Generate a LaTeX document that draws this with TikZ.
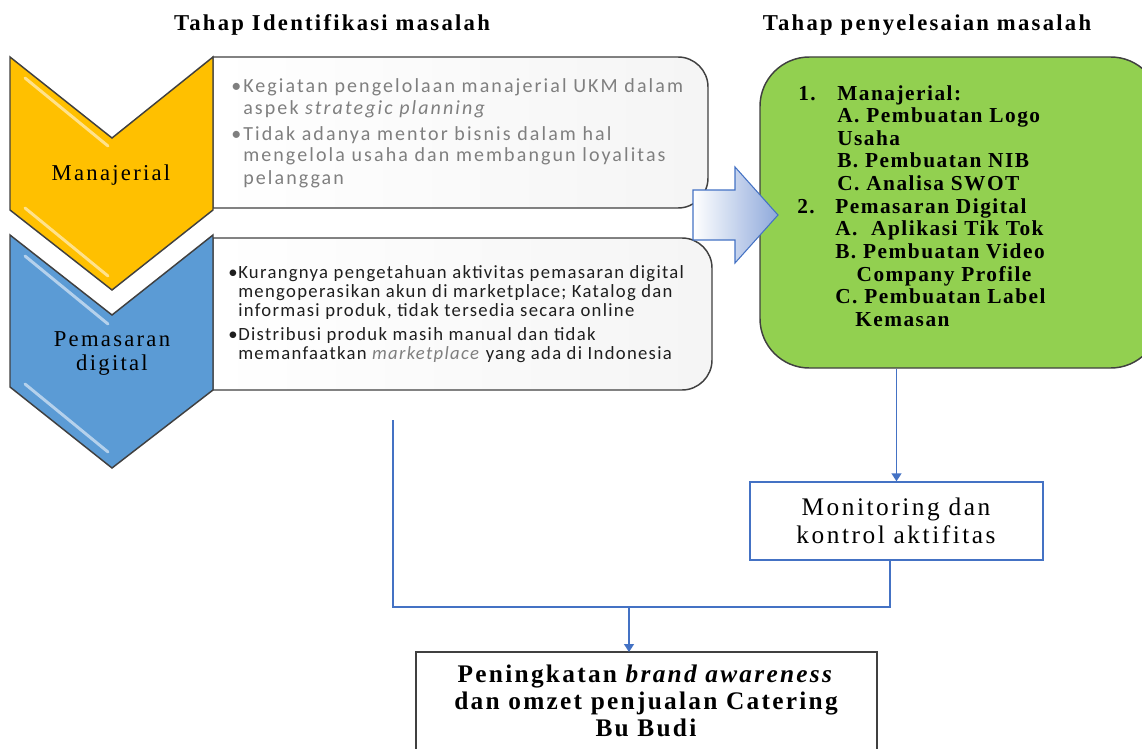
\documentclass[tikz,border=0pt]{standalone}
\usepackage{fontspec}
\setmainfont{Liberation Serif}
\newfontfamily\serifT[LetterSpace=10]{Liberation Serif}
\newfontfamily\serifL[LetterSpace=10]{Liberation Serif}
\newfontfamily\serifG[LetterSpace=7]{Liberation Serif}
\newfontfamily\serifM[LetterSpace=10]{Liberation Serif}
\newfontfamily\serifR[LetterSpace=9]{Liberation Serif}
\newfontfamily\calsansA[LetterSpace=10.5]{Carlito}
\newfontfamily\calsansB[LetterSpace=7]{Carlito}
\usetikzlibrary{arrows.meta}
\definecolor{chevY}{HTML}{FFC000}
\definecolor{chevB}{HTML}{5B9BD5}
\definecolor{edgegray}{HTML}{404040}
\definecolor{lineB}{HTML}{4472C4}
\definecolor{grn}{HTML}{92D050}
\definecolor{txtgray}{HTML}{7F7F7F}
\definecolor{txtdark}{HTML}{1E1E1E}
\definecolor{arrowB}{HTML}{8EA9DB}
\tikzset{
  chev/.style={draw=edgegray, line width=1.1pt, line join=miter},
  hl/.style={white, opacity=0.55, line width=2.2pt, line cap=round},
  boxst/.style={draw=edgegray, line width=1.1pt, left color=white, right color=black!4},
  conn/.style={draw=lineB, line width=1.1pt},
  tip/.style={-{Triangle[width=7.5pt,length=6pt]}},
  txt/.style={inner sep=0pt},
  topfont/.style={font=\fontsize{15}{16.5}\selectfont\calsansA, text=txtgray},
  botfont/.style={font=\fontsize{14}{14.6}\selectfont\calsansB, text=txtdark},
  grfont/.style={font=\fontsize{16}{17}\selectfont\serifG\bfseries},
}
\begin{document}
\begin{tikzpicture}[x=0.75pt,y=-0.75pt]
\useasboundingbox (0,0) rectangle (1142,749);

% titles
\node[txt, anchor=base] (title1) at (332,31) {\fontsize{17}{18}\selectfont\serifT\bfseries Tahap Identifikasi masalah};
\node[txt, anchor=base] (title2) at (927,31) {\fontsize{17}{18}\selectfont\serifT\bfseries Tahap penyelesaian masalah};

% problem boxes
\draw[boxst] (213,57) -- (678,57) .. controls (694.5,57) and (708,70.5) .. (708,87) -- (708,178) .. controls (708,194.5) and (694.5,208) .. (678,208) -- (213,208) -- cycle;
\draw[boxst] (213,238) -- (682,238) .. controls (698.5,238) and (712,251.5) .. (712,268) -- (712,360) .. controls (712,376.5) and (698.5,390) .. (682,390) -- (213,390) -- cycle;

% chevrons
\draw[chev, fill=chevY] (10,57) -- (112,138) -- (213,57) -- (213,210) -- (112,290) -- (10,210) -- cycle;
\draw[hl] (25,78) -- (108,146);
\draw[hl] (25,208) -- (108,276);
\draw[chev, fill=chevB] (10,235) -- (112,315) -- (213,235) -- (213,390) -- (112,468) -- (10,387) -- cycle;
\draw[hl] (25,256) -- (108,324);
\draw[hl] (25,384) -- (108,452);

\node[txt, anchor=base] (lab1) at (111,180) {\fontsize{17}{18}\selectfont\serifL Manajerial};
\node[txt, anchor=base] (lab2) at (112,346) {\parbox[t]{120pt}{\centering\fontsize{17}{18}\selectfont\serifL Pemasaran\\ digital}};

% top box text
\node[txt, anchor=base west, topfont] (b1) at (231,93) {•};
\node[txt, anchor=base west, topfont] (t1) at (243,93) {\parbox[t]{360pt}{\raggedright Kegiatan pengelolaan manajerial UKM dalam\\ aspek \textit{strategic planning}}};
\node[txt, anchor=base west, topfont] (b2) at (231,140) {•};
\node[txt, anchor=base west, topfont] (t2) at (243,140) {\parbox[t]{360pt}{\raggedright Tidak adanya mentor bisnis dalam hal\\ mengelola usaha dan membangun loyalitas\\ pelanggan}};

% bottom box text
\node[txt, anchor=base west, botfont] (b3) at (228,278) {•};
\node[txt, anchor=base west, botfont] (t3) at (238,278) {\parbox[t]{380pt}{\raggedright Kurangnya pengetahuan aktivitas pemasaran digital\\ mengoperasikan akun di marketplace; Katalog dan\\ informasi produk, tidak tersedia secara online}};
\node[txt, anchor=base west, botfont] (b4) at (228,340) {•};
\node[txt, anchor=base west, botfont] (t4) at (238,340) {\parbox[t]{380pt}{\raggedright Distribusi produk masih manual dan tidak\\ memanfaatkan \textcolor{txtgray}{\textit{marketplace}} yang ada di Indonesia}};

% solution box
\begin{scope}
\clip (0,0) rectangle (1142,749);
\node[draw=edgegray, line width=1.1pt, fill=grn, rounded corners=37pt, minimum width=300pt, minimum height=233.25pt, inner sep=0pt] (solve) at (960,212.5) {};
\end{scope}
\node[txt, anchor=base west, grfont] (n1) at (798,100) {1.};
\node[txt, anchor=base west, grfont] (s1) at (837,100) {\parbox[t]{250pt}{\raggedright Manajerial:\\ A. Pembuatan Logo\\ Usaha\\ B. Pembuatan NIB\\ C. Analisa SWOT}};
\node[txt, anchor=base west, grfont] (n2) at (797,213) {2.};
\node[txt, anchor=base west, grfont] (s2) at (835,213) {\parbox[t]{250pt}{\raggedright Pemasaran Digital\\ A.~ Aplikasi Tik Tok\\ B. Pembuatan Video\\ \hspace*{16pt}Company Profile\\ C. Pembuatan Label\\ \hspace*{15pt}Kemasan}};

% block arrow
\draw[draw=lineB, line width=0.8pt, left color=white, right color=arrowB, line join=miter] (693,190) -- (735,190) -- (735,167) -- (778,215) -- (735,263) -- (735,240) -- (693,240) -- cycle;

% monitoring
\node[draw=lineB, line width=1.1pt, fill=white, minimum width=219.75pt, minimum height=58.5pt, inner sep=0pt] (mon) at (896.5,521) {};
\node[txt, anchor=base] (montxt) at (896,515) {\parbox[t]{210pt}{\centering\fontsize{19}{21}\selectfont\serifM Monitoring dan\\ kontrol aktifitas}};

% result box
\draw[draw=edgegray, line width=1.5pt] (416,760) -- (416,652) -- (877,652) -- (877,760);
\coordinate (rtop) at (629,652);
\node[txt, anchor=base] (result) at (646,682) {\parbox[t]{340pt}{\centering\fontsize{19}{20.5}\selectfont\serifR\bfseries Peningkatan \textit{brand awareness}\\ dan omzet penjualan Catering\\ Bu Budi}};

% connectors
\draw[conn, tip] (solve.south -| mon.north) -- (mon.north);
\coordinate (jR) at (890,607);
\coordinate (jL) at (393,607);
\coordinate (lTop) at (393,420);
\coordinate (jM) at (629,607);
\draw[conn] (mon.south -| jR) -- (jR) -- (jL) -- (lTop);
\draw[conn, tip] (jM) -- (rtop);
\end{tikzpicture}
\end{document}
